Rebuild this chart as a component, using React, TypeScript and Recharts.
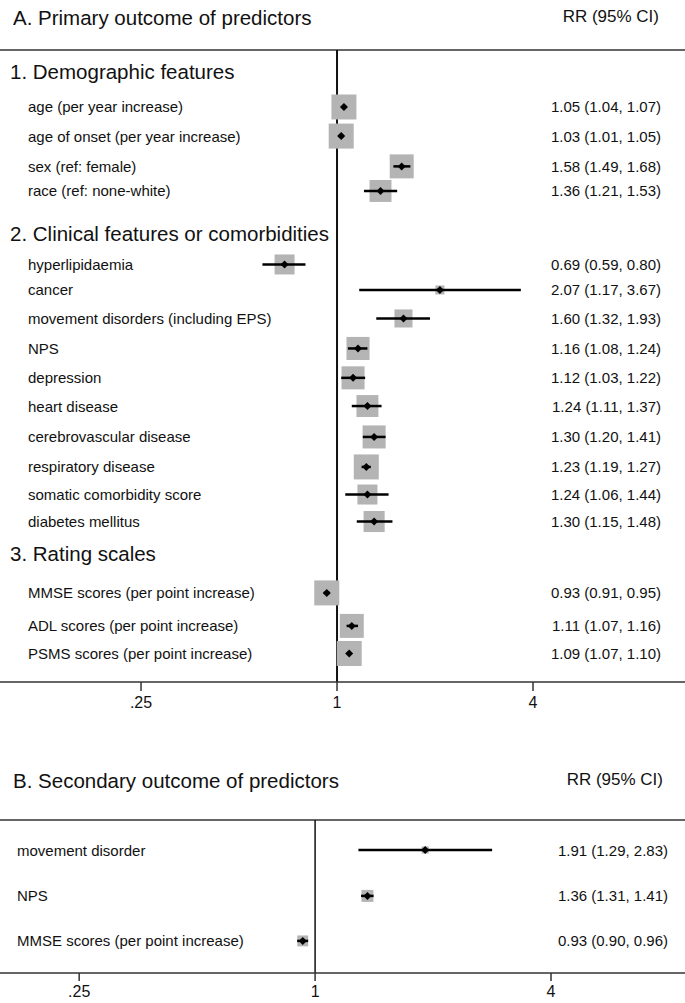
import React from "react";
import {
  ScatterChart, Scatter, XAxis, YAxis, ZAxis, ReferenceLine,
} from "recharts";

const FONT = '"Liberation Sans", Arial, Helvetica, sans-serif';

// ---- panel A: primary outcome ----
const headersA = [
  "1. Demographic features",
  "2. Clinical features or comorbidities",
  "3. Rating scales",
];
const headerRowsA = [0.73, 6.13, 16.8];

const labelsA = [
  "age (per year increase)",
  "age of onset (per year increase)",
  "sex (ref: female)",
  "race (ref: none-white)",
  "hyperlipidaemia",
  "cancer",
  "movement disorders (including EPS)",
  "NPS",
  "depression",
  "heart disease",
  "cerebrovascular disease",
  "respiratory disease",
  "somatic comorbidity score",
  "diabetes mellitus",
  "MMSE scores (per point increase)",
  "ADL scores (per point increase)",
  "PSMS scores (per point increase)",
];
const rowsA = [1.9, 2.87, 3.88, 4.7, 7.15, 8.0, 8.95, 9.95, 10.93, 11.87, 12.9, 13.9, 14.82, 15.72, 18.1, 19.2, 20.12];
const rrA = [1.05, 1.03, 1.58, 1.36, 0.69, 2.07, 1.6, 1.16, 1.12, 1.24, 1.3, 1.23, 1.24, 1.3, 0.93, 1.11, 1.09];
const loA = [1.04, 1.01, 1.49, 1.21, 0.59, 1.17, 1.32, 1.08, 1.03, 1.11, 1.2, 1.19, 1.06, 1.15, 0.91, 1.07, 1.07];
const hiA = [1.07, 1.05, 1.68, 1.53, 0.8, 3.67, 1.93, 1.24, 1.22, 1.37, 1.41, 1.27, 1.44, 1.48, 0.95, 1.16, 1.1];
const weightA = [100, 100, 92, 77, 64, 13, 52, 85, 85, 77, 85, 100, 64, 71, 100, 92, 100];

// ---- panel B: secondary outcome ----
const labelsB = ["movement disorder", "NPS", "MMSE scores (per point increase)"];
const rowsB = [1.0, 2.53, 4.03];
const rrB = [1.91, 1.36, 0.93];
const loB = [1.29, 1.31, 0.9];
const hiB = [2.83, 1.41, 0.96];
const weightB = [8, 23, 19];

const xTicks = [0.25, 1, 4];
const xTickLabels = [".25", "1", "4"];

type Row = { x: number; y: number; label: string; header: boolean; rr?: string };
type Pt = { x: number; y: number; weight: number; lo: number; hi: number };

const fmtRR = (r: number, l: number, h: number) =>
  `${r.toFixed(2)} (${l.toFixed(2)}, ${h.toFixed(2)})`;

function buildPoints(rows: number[], rr: number[], lo: number[], hi: number[], w: number[]): Pt[] {
  return rows.map((y, i) => ({ x: rr[i], y, weight: w[i], lo: lo[i], hi: hi[i] }));
}

// text rows are anchored at x = 1 only to get the row's y from the scale
function buildRows(labels: string[], rows: number[], rr: number[], lo: number[], hi: number[],
  headers: string[] = [], headerRows: number[] = []): Row[] {
  const items: Row[] = labels.map((label, i) => ({
    x: 1, y: rows[i], label, header: false, rr: fmtRR(rr[i], lo[i], hi[i]),
  }));
  const heads: Row[] = headers.map((label, i) => ({ x: 1, y: headerRows[i], label, header: true }));
  return [...heads, ...items];
}

const pointsA = buildPoints(rowsA, rrA, loA, hiA, weightA);
const pointsB = buildPoints(rowsB, rrB, loB, hiB, weightB);
const tableA = buildRows(labelsA, rowsA, rrA, loA, hiA, headersA, headerRowsA);
const tableB = buildRows(labelsB, rowsB, rrB, loB, hiB);

const tickFmt = (v: number) => {
  const i = xTicks.findIndex((t) => Math.abs(t - v) < 1e-9);
  return i >= 0 ? xTickLabels[i] : String(v);
};

const Box = (p: any) => {
  const side = p.size != null ? Math.sqrt(p.size) : (p.width / 2) * Math.sqrt(Math.PI);
  return <rect x={p.cx - side / 2} y={p.cy - side / 2} width={side} height={side} fill="#b4b4b4" />;
};

const Diamond = (p: any) => {
  const r = 4;
  return (
    <polygon
      points={`${p.cx - r},${p.cy} ${p.cx},${p.cy - r} ${p.cx + r},${p.cy} ${p.cx},${p.cy + r}`}
      fill="#000"
    />
  );
};

const NoDot = () => <g />;

function makeLabelShape(labelX: number, headerX: number, rrX: number) {
  return (p: any) => {
    const row: Row = p.payload;
    if (row.header) {
      return (
        <text x={headerX} y={p.cy} dominantBaseline="central" fontSize={20.5} fontFamily={FONT} fill="#111">
          {row.label}
        </text>
      );
    }
    return (
      <g>
        <text x={labelX} y={p.cy} dominantBaseline="central" fontSize={15} fontFamily={FONT} fill="#111">
          {row.label}
        </text>
        <text x={rrX} y={p.cy} dominantBaseline="central" textAnchor="end" fontSize={15} fontFamily={FONT} fill="#111">
          {row.rr}
        </text>
      </g>
    );
  };
}

type PanelProps = {
  height: number;
  axisHeight: number;
  tickSize: number;
  tickMargin: number;
  xDomain: [number, number];
  yMax: number;
  points: Pt[];
  rows: Row[];
  labelX: number;
  rrX: number;
  refWidth: number;
};

function ForestPanel(p: PanelProps) {
  const LabelShape = makeLabelShape(p.labelX, 10, p.rrX);
  return (
    <ScatterChart width={685} height={p.height} margin={{ top: 50, right: 0, bottom: 0, left: 0 }}>
      <XAxis
        type="number"
        dataKey="x"
        scale="log"
        domain={p.xDomain}
        allowDataOverflow
        ticks={xTicks}
        interval={0}
        tickFormatter={tickFmt}
        height={p.axisHeight}
        axisLine={{ stroke: "#333", strokeWidth: 1.5 }}
        tickLine={{ stroke: "#333", strokeWidth: 1.5 }}
        tickSize={p.tickSize}
        tickMargin={p.tickMargin}
        tick={{ fill: "#111", fontSize: 16, fontFamily: FONT }}
      />
      <YAxis type="number" dataKey="y" domain={[0, p.yMax]} reversed allowDataOverflow hide />
      <ZAxis type="number" dataKey="weight" domain={[0, 100]} range={[0, 625]} />
      <ReferenceLine y={0} stroke="#333" strokeWidth={1.5} />
      <Scatter data={p.points} shape={Box} isAnimationActive={false} />
      <ReferenceLine x={1} stroke="#111" strokeWidth={p.refWidth} />
      {p.points.map((pt, i) => (
        <Scatter
          key={`ci-${i}`}
          data={[{ x: pt.lo, y: pt.y }, { x: pt.hi, y: pt.y }]}
          line={{ stroke: "#000", strokeWidth: 2.5 }}
          shape={NoDot}
          isAnimationActive={false}
        />
      ))}
      <Scatter data={p.points} shape={Diamond} isAnimationActive={false} />
      <Scatter data={p.rows} shape={LabelShape} isAnimationActive={false} />
    </ScatterChart>
  );
}

const titleStyle: React.CSSProperties = {
  position: "absolute", left: 13, fontSize: 20.5, lineHeight: "23px", fontFamily: FONT, color: "#111",
};
const rrHeadStyle: React.CSSProperties = {
  position: "absolute", fontSize: 17, lineHeight: "20px", fontFamily: FONT, color: "#111",
};

export default function App() {
  return (
    <div style={{ position: "absolute", left: 0, top: 0, width: 685, height: 1003, background: "#fff", overflow: "hidden" }}>
      <div style={{ ...titleStyle, top: 6 }}>A. Primary outcome of predictors</div>
      <div style={{ ...rrHeadStyle, top: 7, right: 26 }}>RR (95% CI)</div>
      <div style={{ position: "absolute", left: 0, top: 0 }}>
        <ForestPanel
          height={730}
          axisHeight={48}
          tickSize={9}
          tickMargin={6}
          xDomain={[0.0922, 11.72]}
          yMax={21.07}
          points={pointsA}
          rows={tableA}
          labelX={28}
          rrX={661}
          refWidth={2}
        />
      </div>
      <div style={{ ...titleStyle, top: 769 }}>B. Secondary outcome of predictors</div>
      <div style={{ ...rrHeadStyle, top: 770, right: 22 }}>RR (95% CI)</div>
      <div style={{ position: "absolute", left: 0, top: 770 }}>
        <ForestPanel
          height={233}
          axisHeight={30}
          tickSize={8}
          tickMargin={5}
          xDomain={[0.157, 8.79]}
          yMax={5.1}
          points={pointsB}
          rows={tableB}
          labelX={17}
          rrX={668}
          refWidth={1.5}
        />
      </div>
    </div>
  );
}
